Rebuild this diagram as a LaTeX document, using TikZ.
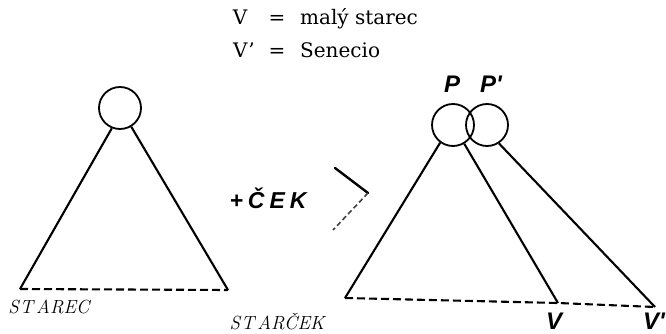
\documentclass[tikz,border=0pt]{standalone}
\usepackage{fontspec}
\newfontfamily\hand{Liberation Sans}
\newfontfamily\headserif{DejaVu Serif}
\tikzset{
  txt/.style={inner sep=0pt, font=\headserif\fontsize{20}{22}\selectfont},
  word/.style={inner sep=0pt, font=\fontsize{19}{21}\selectfont\itshape},
  handlbl/.style={inner sep=0pt, font=\hand\bfseries\itshape\fontsize{24}{26}\selectfont},
  headcircle/.style={circle, draw, line width=1.8pt, minimum size=42pt, inner sep=0pt},
  edge/.style={line width=2.1pt},
  base/.style={line width=2.1pt, dash pattern=on 8pt off 4pt},
}
\begin{document}
\begin{tikzpicture}[x=1pt,y=-1pt]
\useasboundingbox (0,0) rectangle (666,334);
% header
\node[txt, anchor=base] (hv) at (240,25) {V};
\node[txt, anchor=base] (heq) at (277,25) {=};
\node[txt, anchor=base west] (hm) at (300,25) {malý starec};
\node[txt, anchor=base west] (hv2) at (233,58) {V’};
\node[txt, anchor=base] (heq2) at (277,58) {=};
\node[txt, anchor=base west] (hs) at (300,58) {Senecio};
% left tree
\node[headcircle] (c) at (120,108) {};
\coordinate (a1) at (20,289);
\coordinate (a2) at (228,290);
\draw[edge] (c.248) -- (a1);
\draw[edge] (c.301) -- (a2);
\draw[base] (a1) -- (a2);
\node[word, anchor=base] (starec) at (49,313) {S\kern1pt T\kern3pt AREC};
\node[word, anchor=base] (starcek) at (277,329) {S\kern1pt T\kern3pt ARČEK};
% +CEK and arrow
\node[handlbl, font=\hand\bfseries\itshape\fontsize{23}{25}\selectfont, anchor=base] (cek) at (268,208) {+\kern5pt Č\kern5pt E\kern5pt K};
\coordinate (g1) at (335,168);
\coordinate (g2) at (368,193);
\coordinate (g3) at (333,230);
\draw[line width=2.4pt, line cap=round] (g1) -- (g2);
\draw[line width=1.6pt, dash pattern=on 5pt off 3pt, black!75] (g2) -- (g3);
% right tree
\node[headcircle] (p) at (453,125) {};
\node[headcircle] (pp) at (487,125) {};
\coordinate (b1) at (345,298);
\coordinate (v) at (558,303);
\coordinate (vv) at (655,307);
\draw[edge] (p.234) -- (b1);
\draw[edge] (p.301) -- (v);
\draw[edge] (pp.303) -- (vv);
\draw[base] (b1) -- (v) -- (vv);
\node[handlbl, anchor=base] (lp) at (452,93) {P};
\node[handlbl, anchor=base west] (lpp) at (480,93) {P'};
\node[handlbl, anchor=base] (lv) at (554,329) {V};
\node[handlbl, anchor=base west] (lvv) at (643,329) {V'};
\end{tikzpicture}
\end{document}
